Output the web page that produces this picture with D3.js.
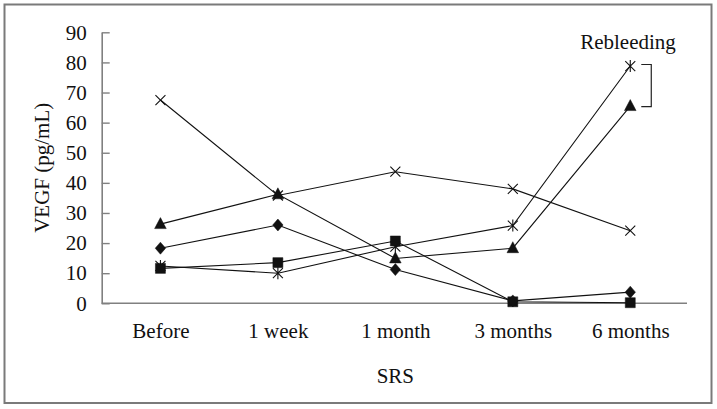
<!DOCTYPE html>
<html>
<head>
<meta charset="utf-8">
<script src="https://cdn.jsdelivr.net/npm/d3@7"></script>
<style>
  body { margin: 0; background: #fff; }
</style>
</head>
<body>
<div id="chart"></div>
<script>
const categories = ["Before", "1 week", "1 month", "3 months", "6 months"];
const yTicks = [0, 10, 20, 30, 40, 50, 60, 70, 80, 90];

// one array per patient
const diamondVals = [18.3, 26.0, 11.2, 0.8, 3.7];
const triangleVals = [26.3, 36.2, 14.9, 18.3, 65.5];
const squareVals = [11.6, 13.5, 20.7, 0.5, 0.2];
const crossVals = [67.5, 35.8, 43.7, 38.0, 24.1];
const starVals = [12.4, 10.0, 18.8, 25.8, 78.8];

const series = [
    {name: "cross", values: crossVals},
    {name: "star", values: starVals},
    {name: "square", values: squareVals},
    {name: "diamond", values: diamondVals},
    {name: "triangle", values: triangleVals}
];

const width = 717, height = 409;
const margin = {top: 32.3, right: 28, bottom: 105.7, left: 101.7};
const serif = "'Liberation Serif', 'DejaVu Serif', 'Times New Roman', serif";

const svg = d3.select("#chart").append("svg")
    .attr("width", width)
    .attr("height", height)
    .attr("font-family", serif);

// frame round the figure
svg.append("rect")
    .attr("x", 4.5).attr("y", 4.5)
    .attr("width", 707).attr("height", 398.5)
    .attr("fill", "none")
    .attr("stroke", "#7a7a7a")
    .attr("stroke-width", 2);

const x = d3.scalePoint()
    .domain(categories)
    .range([margin.left, width - margin.right])
    .padding(0.5);

const y = d3.scaleLinear()
    .domain([0, 90])
    .range([height - margin.bottom, margin.top]);

// y axis, ticks point inward
const yAxis = svg.append("g")
    .attr("transform", "translate(" + margin.left + ",0)")
    .call(d3.axisLeft(y).tickValues(yTicks).tickSizeInner(-8).tickSizeOuter(0).tickPadding(15));
yAxis.attr("font-family", serif).attr("font-size", 21);
yAxis.select(".domain").attr("stroke", "#808080").attr("stroke-width", 1.6);
yAxis.selectAll(".tick line").attr("stroke", "#808080").attr("stroke-width", 1.4);
yAxis.selectAll(".tick text").attr("fill", "#111");

const xAxis = svg.append("g")
    .attr("transform", "translate(0," + y(0) + ")")
    .call(d3.axisBottom(x).tickSize(0).tickPadding(20));
xAxis.attr("font-family", serif).attr("font-size", 21);
xAxis.select(".domain")
    .attr("d", "M" + margin.left + ",0H" + (width - margin.right - 2))
    .attr("stroke", "#808080").attr("stroke-width", 1.6);
xAxis.selectAll(".tick text").attr("fill", "#111");

svg.append("text")
    .attr("x", (x.range()[0] + x.range()[1]) / 2)
    .attr("y", 383)
    .attr("text-anchor", "middle")
    .attr("font-size", 21)
    .attr("fill", "#111")
    .text("SRS");

svg.append("text")
    .attr("transform", "translate(49," + ((y(0) + y(90)) / 2) + ") rotate(-90)")
    .attr("text-anchor", "middle")
    .attr("font-size", 21)
    .attr("fill", "#111")
    .text("VEGF (pg/mL)");

const line = d3.line()
    .x((d, i) => x(categories[i]))
    .y(d => y(d));

svg.append("g")
    .selectAll("path")
    .data(series)
    .join("path")
    .attr("d", d => line(d.values))
    .attr("fill", "none")
    .attr("stroke", "#111")
    .attr("stroke-width", 1.1);

const shapes = {
    diamond: "M0,-6L5.2,0L0,6L-5.2,0Z",
    triangle: "M0,-6.5L5.8,4.5L-5.8,4.5Z",
    square: "M-5,-5H5V5H-5Z",
    cross: "M-5,-5L5,5M-5,5L5,-5",
    star: "M-5,-5L5,5M-5,5L5,-5M0,-6V6"
};

series.forEach(s => {
    const open = s.name === "cross" || s.name === "star";
    svg.append("g")
        .selectAll("path")
        .data(s.values)
        .join("path")
        .attr("transform", (d, i) => "translate(" + x(categories[i]) + "," + y(d) + ")")
        .attr("d", shapes[s.name])
        .attr("fill", open ? "none" : "#111")
        .attr("stroke", "#111")
        .attr("stroke-width", open ? 1.1 : 0.5);
});

// rebleeding bracket between the two 6-month peaks
const bx = x("6 months") + 21;
svg.append("path")
    .attr("d", "M" + (bx - 10) + "," + (y(starVals[4]) - 1.5) + "H" + bx +
        "V" + (y(triangleVals[4]) + 0.5) + "H" + (bx - 10))
    .attr("fill", "none")
    .attr("stroke", "#222")
    .attr("stroke-width", 1.2);

svg.append("text")
    .attr("x", 628)
    .attr("y", 49)
    .attr("text-anchor", "middle")
    .attr("font-size", 21)
    .attr("fill", "#111")
    .text("Rebleeding");
</script>
</body>
</html>
